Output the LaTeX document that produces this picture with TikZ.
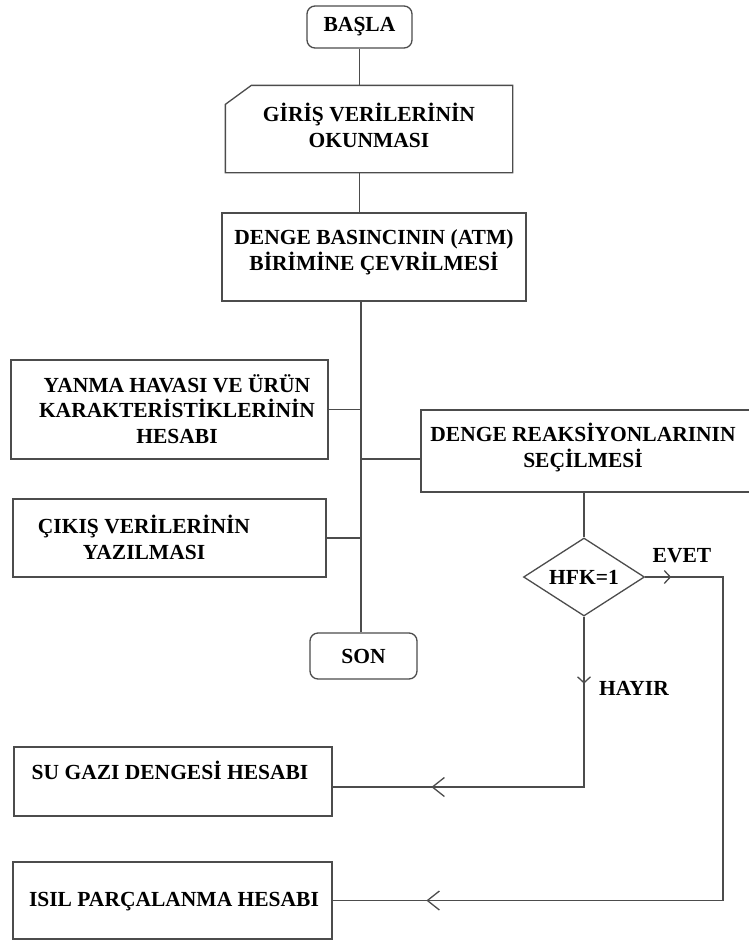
\documentclass[tikz,border=0pt]{standalone}
\usepackage{fontspec}
\setmainfont{Liberation Serif}
\usetikzlibrary{arrows.meta,shapes.geometric,decorations.markings}
\definecolor{LineClr}{rgb}{0.3,0.3,0.3}

\begin{document}
\begin{tikzpicture}[x=1pt,y=-1pt,line width=1.3pt,color=LineClr,
  kutu/.style={draw=LineClr,inner sep=0pt},
  yuvarlak/.style={kutu,rounded corners=8pt},
  yazi/.style={text=black,font=\bfseries\fontsize{21.5}{25.5}\selectfont,align=center,inner sep=0pt},
  ucK/.tip={Straight Barb[length=6pt,width=13pt]},
  ucB/.tip={Straight Barb[length=12pt,width=19pt]}]
\useasboundingbox (0,0) rectangle (749,940);

\node[yuvarlak,yazi,minimum width=105pt,minimum height=42pt] (basla) at (359.5,27) {BAŞLA};

\node[inner sep=0pt,minimum width=286pt,minimum height=86pt] (giris) at (369,129) {};
\draw (giris.south west) -- ([yshift=-19pt]giris.north west) -- ([xshift=26pt]giris.north west)
  -- (giris.north east) -- (giris.south east) -- cycle;
\node[yazi,anchor=base] (girisY) at (369,147) {GİRİŞ VERİLERİNİN\\OKUNMASI};

\node[kutu,minimum width=304pt,minimum height=88pt] (basinc) at (374,257) {};
\node[yazi,anchor=base] (basincY) at (374,270) {DENGE BASINCININ (ATM)\\BİRİMİNE ÇEVRİLMESİ};

\node[kutu,minimum width=317pt,minimum height=99pt] (yanma) at (169.5,409.5) {};
\node[yazi,anchor=base] (yanmaY) at (177,443) {YANMA HAVASI VE ÜRÜN\\KARAKTERİSTİKLERİNİN\\HESABI};

\node[kutu,minimum width=313pt,minimum height=78pt] (cikis) at (169.5,538) {};
\node[yazi,anchor=base] (cikisY) at (144,559) {ÇIKIŞ VERİLERİNİN\\YAZILMASI};

\node[kutu,minimum width=334pt,minimum height=82pt] (reaksiyon) at (588,451) {};
\node[yazi,anchor=base] (reaksiyonY) at (583,467) {DENGE REAKSİYONLARININ\\SEÇİLMESİ};

\node[yuvarlak,yazi,minimum width=107pt,minimum height=46pt] (son) at (363.5,656) {SON};

\node[kutu,yazi,diamond,aspect=1.55,minimum width=121pt,minimum height=78pt] (hfk) at (584,577) {HFK=1};
\node[yazi,anchor=base] (evet) at (682,562) {EVET};
\node[yazi,anchor=base] (hayir) at (634,695) {HAYIR};

\node[kutu,minimum width=318pt,minimum height=69pt] (sugazi) at (173,781.5) {};
\node[yazi,anchor=base] (sugaziY) at (170,779) {SU GAZI DENGESİ HESABI};

\node[kutu,minimum width=319pt,minimum height=77pt] (isil) at (172.5,900.5) {};
\node[yazi,anchor=base] (isilY) at (174,906) {ISIL PARÇALANMA HESABI};

\coordinate (govde) at (361,0);
\coordinate (sag) at (723,0);
\coordinate (rk) at ([yshift=-8pt]reaksiyon.west);
\coordinate (sg) at ([yshift=-5.5pt]sugazi.east);

\draw (basla.south) -- (basla.south |- giris.north);
\draw (basla.south |- giris.south) -- (basla.south |- basinc.north);
\draw (govde |- basinc.south) -- (govde |- son.north);
\draw (yanma.east) -- (govde |- yanma.east);
\draw (cikis.east) -- (govde |- cikis.east);
\draw (rk) -- (govde |- rk);
\draw (hfk.north |- reaksiyon.south) -- (hfk.north);

\draw[postaction={decorate},decoration={markings,
  mark=at position 26pt with {\arrow{ucK}},
  mark=at position 698pt with {\arrow{ucB}}}]
  (hfk.east) -| (sag |- isil.east) -- (isil.east);
\draw[postaction={decorate},decoration={markings,
  mark=at position 67pt with {\arrow{ucK}},
  mark=at position 323pt with {\arrow{ucB}}}]
  (hfk.south) |- (sg);

\end{tikzpicture}
\end{document}
